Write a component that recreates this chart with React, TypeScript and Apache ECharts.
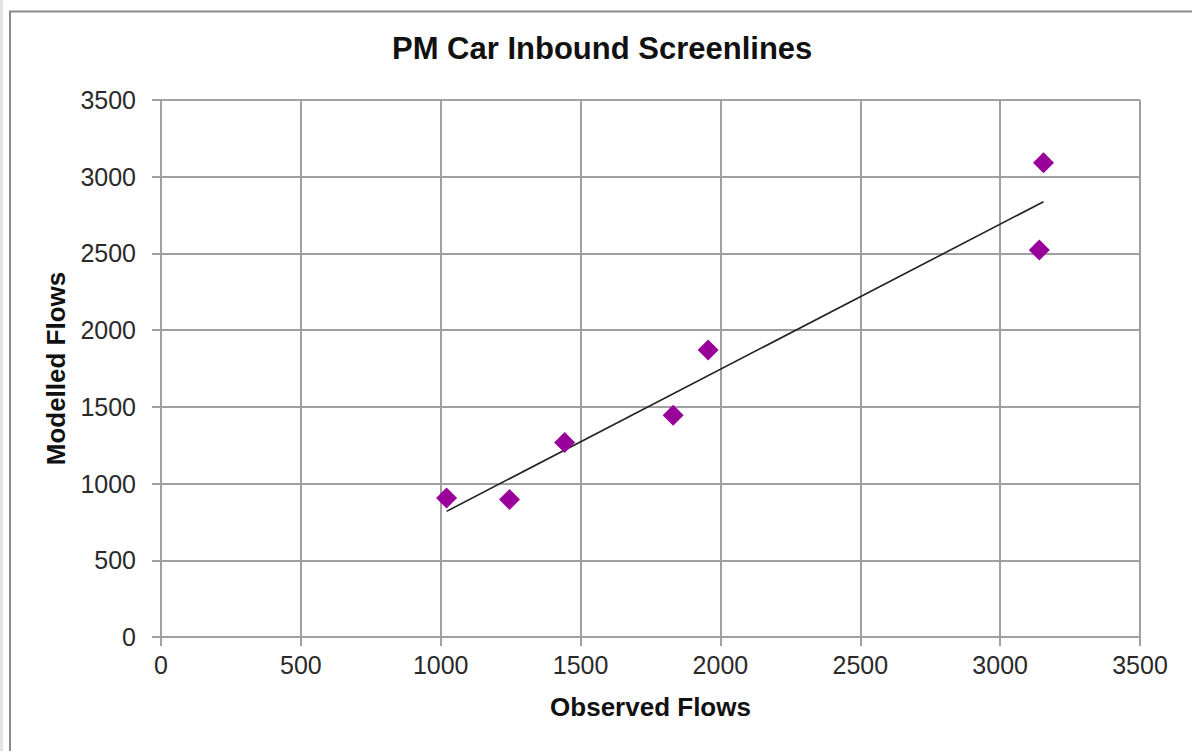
import React, { useEffect, useRef } from "react";
import * as echarts from "echarts";

const chartTitle = "PM Car Inbound Screenlines";
const xAxisName = "Observed Flows";
const yAxisName = "Modelled Flows";

const observed = [1021, 1246, 1443, 1831, 1956, 3140, 3155];
const modelled = [906, 896, 1267, 1446, 1870, 2522, 3091];

const trendX = [1021, 3155];
const trendY = [819, 2837];

const axisMin = 0;
const axisMax = 3500;
const axisStep = 500;

const FONT = "'Liberation Sans', Arial, sans-serif";
const GRID = "#a0a0a0";

export default function App() {
  const ref = useRef<HTMLDivElement>(null);

  useEffect(() => {
    if (!ref.current) return;
    const chart = echarts.init(ref.current, undefined, { renderer: "svg" });

    const points = observed.map((x, i) => [x, modelled[i]]);
    const trend = trendX.map((x, i) => [x, trendY[i]]);

    const axisCommon = {
      type: "value" as const,
      min: axisMin,
      max: axisMax,
      interval: axisStep,
      nameLocation: "middle" as const,
      nameTextStyle: {
        fontFamily: FONT,
        fontSize: 26,
        fontWeight: "bold" as const,
        color: "#111",
      },
      axisLine: { show: true, lineStyle: { color: GRID, width: 2 } },
      axisTick: { show: true, inside: false, length: 9, lineStyle: { color: GRID, width: 2 } },
      splitLine: { show: true, lineStyle: { color: GRID, width: 2 } },
      axisLabel: {
        fontFamily: FONT,
        fontSize: 25,
        color: "#2a2a2a",
        formatter: (v: number) => String(v),
      },
    };

    chart.setOption({
      animation: false,
      backgroundColor: "#ffffff",
      title: {
        text: chartTitle,
        left: 392,
        top: 33,
        padding: 0,
        textStyle: {
          fontFamily: FONT,
          fontSize: 31,
          fontWeight: "bold",
          color: "#111",
        },
      },
      graphic: [
        {
          type: "rect",
          silent: true,
          z: -10,
          shape: { x: 0, y: 0, width: 3, height: 751 },
          style: { fill: "#dfe2e6" },
        },
        {
          type: "rect",
          silent: true,
          z: -10,
          shape: { x: 10, y: 11.5, width: 1200, height: 800 },
          style: { fill: "none", stroke: "#8a8a8a", lineWidth: 2 },
        },
      ],
      grid: { left: 161, top: 100, right: 52, bottom: 114, containLabel: false },
      xAxis: {
        ...axisCommon,
        name: xAxisName,
        nameGap: 57,
        axisLabel: { ...axisCommon.axisLabel, margin: 15 },
      },
      yAxis: {
        ...axisCommon,
        name: yAxisName,
        nameGap: 82,
        axisLabel: { ...axisCommon.axisLabel, margin: 25 },
      },
      series: [
        {
          type: "line",
          data: trend,
          symbol: "none",
          lineStyle: { color: "#222", width: 1.6 },
          z: 2,
        },
        {
          type: "scatter",
          data: points,
          symbol: "diamond",
          symbolSize: 21,
          itemStyle: { color: "#990099", opacity: 1 },
          z: 3,
        },
      ],
    });

    return () => chart.dispose();
  }, []);

  return (
    <div
      ref={ref}
      style={{ position: "fixed", left: 0, top: 0, width: 1192, height: 751, background: "#fff" }}
    />
  );
}
